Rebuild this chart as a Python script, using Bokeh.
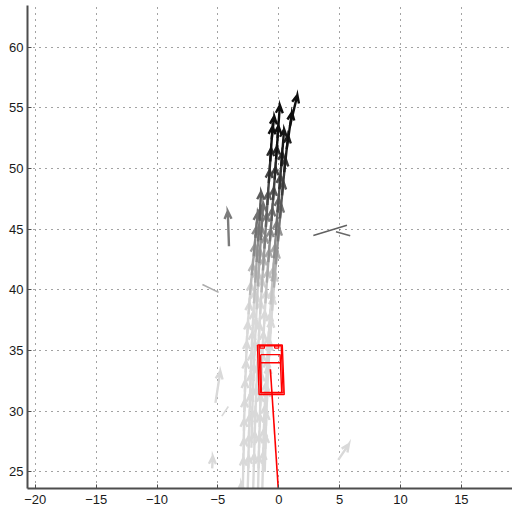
import math
from bokeh.plotting import figure
from bokeh.models import Range1d, FixedTicker, CustomJSTickFormatter
from bokeh.embed import file_html
from bokeh.resources import INLINE

# ---- data ----
# tracked positions (each track gives one quiver arrow per step)
track_x = [
    [-2.95, -2.92, -2.88, -2.86, -2.82, -2.78, -2.72, -2.66, -2.58, -2.48, -2.36, -2.22, -2.06, -1.92, -1.8],
    [-2.55, -2.5, -2.47, -2.42, -2.38, -2.33, -2.27, -2.2, -2.12, -2.03, -1.93, -1.82, -1.7, -1.58, -1.5],
    [-2.1, -2.05, -2.0, -1.95, -1.88, -1.8, -1.72, -1.63, -1.53, -1.42, -1.3, -1.18, -1.06, -0.94, -0.82, -0.7, -0.58, -0.45],
    [-1.7, -1.66, -1.62, -1.57, -1.52, -1.45, -1.38, -1.3, -1.2, -1.1, -0.98, -0.86, -0.73, -0.6, -0.47, -0.34, -0.22, -0.1, 0.02],
    [-1.35, -1.3, -1.25, -1.18, -1.1, -1.0, -0.9, -0.78, -0.65, -0.52, -0.38, -0.24, -0.1, 0.05, 0.2, 0.35],
    [-1.15, -1.1, -1.05, -0.98, -0.9, -0.8, -0.68, -0.55, -0.4, -0.24, -0.07, 0.1, 0.27, 0.45, 0.65, 0.92, 1.3],
    [-2.25, -2.2, -2.15, -2.08, -2.0, -1.92, -1.82, -1.72, -1.6, -1.48, -1.35],
]
track_y = [
    [23.6, 25.2, 26.8, 28.4, 30.0, 31.6, 33.2, 34.8, 36.4, 38.0, 39.6, 41.2, 42.8, 44.3, 45.6],
    [23.6, 25.3, 27.0, 28.7, 30.4, 32.1, 33.8, 35.5, 37.2, 38.9, 40.6, 42.3, 44.0, 45.7, 47.2],
    [23.6, 25.4, 27.2, 29.0, 30.8, 32.6, 34.4, 36.2, 38.0, 39.8, 41.6, 43.4, 45.2, 47.0, 48.8, 50.6, 52.4, 53.6],
    [23.6, 25.3, 27.0, 28.7, 30.4, 32.1, 33.8, 35.5, 37.2, 38.9, 40.6, 42.3, 44.0, 45.7, 47.4, 49.1, 50.8, 52.5, 54.2],
    [23.6, 25.5, 27.4, 29.3, 31.2, 33.1, 35.0, 36.9, 38.8, 40.7, 42.6, 44.5, 46.4, 48.3, 50.2, 52.1],
    [25.0, 26.9, 28.8, 30.7, 32.6, 34.5, 36.4, 38.3, 40.2, 42.1, 44.0, 45.9, 47.8, 49.7, 51.6, 53.5, 55.1],
    [27.0, 28.9, 30.8, 32.7, 34.6, 36.5, 38.4, 40.3, 42.2, 44.1, 46.0],
]

# isolated quiver arrows: tail position and vector
single_x = [-4.09, 4.89, -5.2, -5.47, -3.1]
single_y = [43.6, 26.0, 30.7, 25.3, 23.5]
single_u = [-0.1, 0.87, 0.4, 0.05, 0.02]
single_v = [2.9, 1.3, 2.6, 1.0, 0.6]

# short streaks without heads: start / end
streak_x0 = [2.84, 4.7, -6.27, -4.68]
streak_y0 = [44.48, 44.8, 40.45, 29.6]
streak_x1 = [5.6, 5.87, -4.94, -4.14]
streak_y1 = [45.33, 44.47, 39.8, 30.4]

# vehicle outline (two poses), inner cab, roof line, mirrors, trajectory line
car_x = [-1.75, 0.29, 0.45, -1.62]
car_y = [35.47, 35.47, 31.39, 31.39]
car2_x = [-1.62, 0.2, 0.36, -1.5]
car2_y = [35.4, 35.4, 31.52, 31.52]
cab_x = [-1.49, 0.11, 0.24, -1.43]
cab_y = [34.67, 34.67, 31.55, 31.55]
roof_x = [-1.47, 0.13]
roof_y = [34.0, 34.0]
mirror_left = [-1.54, -1.17, 35.2, 35.39]
mirror_right = [-0.34, 0.0, 35.2, 35.39]
path_x = [-0.69, 0.0]
path_y = [33.47, 23.0]

x_ticks = [-20, -15, -10, -5, 0, 5, 10, 15]
y_ticks = [25, 30, 35, 40, 45, 50, 55, 60]

# ---- figure ----
p = figure(width=512, height=513, output_backend="svg", toolbar_location=None,
           x_range=Range1d(-20.64, 19.2), y_range=Range1d(23.64, 63.44),
           min_border_left=27, min_border_right=0, min_border_top=5, min_border_bottom=25)
p.outline_line_color = None
p.background_fill_color = "white"
p.border_fill_color = "white"

fmt = CustomJSTickFormatter(code="return (tick < 0 ? '\u2212' : '') + Math.abs(tick);")
for ax, ticks in ((p.xaxis[0], x_ticks), (p.yaxis[0], y_ticks)):
    ax.ticker = FixedTicker(ticks=ticks)
    ax.formatter = fmt
    ax.axis_line_color = "#4d4d4d"
    ax.axis_line_width = 2
    ax.major_tick_in = 4
    ax.major_tick_out = 0
    ax.major_tick_line_color = "#4d4d4d"
    ax.minor_tick_line_color = None
    ax.major_label_text_font = "Liberation Sans"
    ax.major_label_text_font_size = "13px"
    ax.major_label_text_color = "#1a1a1a"
p.xaxis.major_label_standoff = 6
p.yaxis.major_label_standoff = 4

for g in (p.xgrid, p.ygrid):
    g.grid_line_color = "#333333"
    g.grid_line_dash = "1 5"
    g.grid_line_width = 1
    g.grid_line_alpha = 0.9


def gray_for(y):
    g = 0.85 - (y - 37.5) * 0.06
    g = max(0.06, min(0.85, g))
    v = int(round(g * 255))
    return "#%02x%02x%02x" % (v, v, v)


# streaks
p.segment(streak_x0, streak_y0, streak_x1, streak_y1,
          line_color=[gray_for(max(a, b)) for a, b in zip(streak_y0, streak_y1)], line_width=1.6)

# collect arrows: track steps (velocity from successive positions) + isolated ones
SCALE = 1.6
arrows = []
for tx_list, ty_list in zip(track_x, track_y):
    for k in range(len(tx_list) - 1):
        arrows.append((tx_list[k], ty_list[k],
                       (tx_list[k + 1] - tx_list[k]) * SCALE,
                       (ty_list[k + 1] - ty_list[k]) * SCALE))
for a in zip(single_x, single_y, single_u, single_v):
    arrows.append(a)
arrows.sort(key=lambda a: a[1])

xs, ys, cols = [], [], []
head_len = 0.7
ang = math.radians(24)
for x0, y0, u, v in arrows:
    tx, ty = x0 + u, y0 + v
    n = math.hypot(u, v)
    dx, dy = u / n, v / n
    b1x = tx - head_len * (dx * math.cos(ang) - dy * math.sin(ang))
    b1y = ty - head_len * (dx * math.sin(ang) + dy * math.cos(ang))
    b2x = tx - head_len * (dx * math.cos(-ang) - dy * math.sin(-ang))
    b2y = ty - head_len * (dx * math.sin(-ang) + dy * math.cos(-ang))
    xs.append([x0, tx, b1x, tx, b2x])
    ys.append([y0, ty, b1y, ty, b2y])
    cols.append(gray_for(y0))
p.multi_line(xs, ys, line_color=cols, line_width=2.4, line_join="miter")

# vehicle
red = "#ff0000"
for cx, cy in ((car_x, car_y), (car2_x, car2_y), (cab_x, cab_y)):
    p.line(cx + [cx[0]], cy + [cy[0]], line_color=red, line_width=1.4)
p.line(roof_x, roof_y, line_color=red, line_width=1.4)
for m in (mirror_left, mirror_right):
    p.line([m[0], m[1], m[1], m[0], m[0]], [m[2], m[2], m[3], m[3], m[2]], line_color=red, line_width=1.2)
p.line(path_x, path_y, line_color=red, line_width=1.6)

open("out.html", "w").write(file_html(p, INLINE))
